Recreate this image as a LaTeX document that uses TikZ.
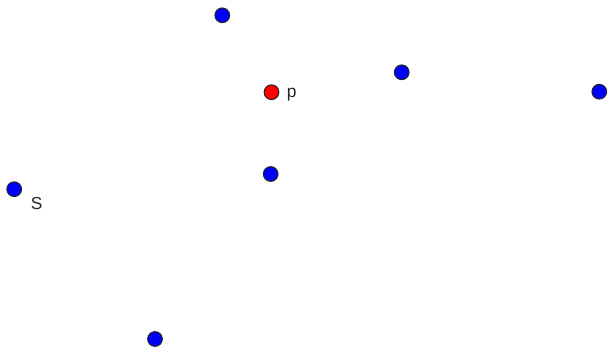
\documentclass[tikz,border=0pt]{standalone}
\usepackage{fontspec}
\setmainfont{Liberation Sans}
\begin{document}
\begin{tikzpicture}[
    x=0.75pt, y=-0.75pt,
    pt/.style={circle, draw=black!85, line width=0.8pt, fill=blue, inner sep=0pt, minimum size=11pt},
    lbl/.style={anchor=base west, inner sep=0pt, font=\fontsize{13pt}{15pt}\selectfont, text=black!85}
]
\useasboundingbox (0,0) rectangle (608,347);
\node[pt] (top) at (222.3,15.3) {};
\node[pt, fill=red] (p) at (271.5,92.2) {};
\node[pt] (mid) at (401.7,72.3) {};
\node[pt] (right) at (599.3,91.7) {};
\node[pt] (centre) at (270.7,174) {};
\node[pt] (S) at (14.2,189.2) {};
\node[pt] (bottom) at (155,339) {};
\node[lbl] (plabel) at (286.5,97) {p};
\node[lbl] (Slabel) at (30.5,209.5) {S};
\end{tikzpicture}
\end{document}
